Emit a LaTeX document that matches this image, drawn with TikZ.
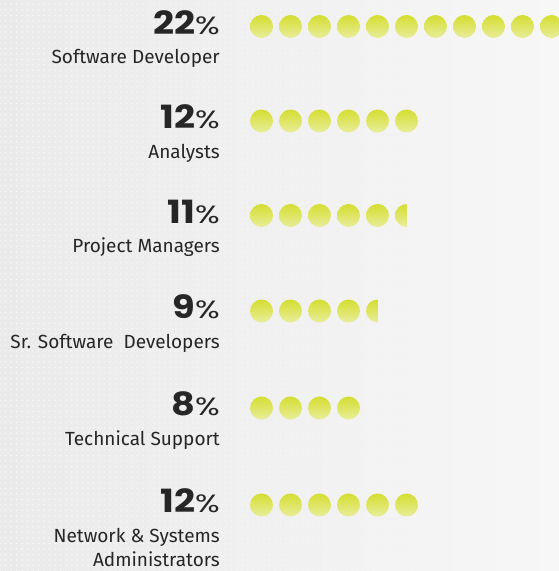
\documentclass[tikz,border=0pt]{standalone}
\usepackage{fontspec}
\setmainfont{Fira Sans}
\newfontfamily\numfont{Poppins}[FakeStretch=1.15]
\newfontfamily\pctfont{Poppins}[FakeStretch=1.3]
\usetikzlibrary{patterns.meta,fadings}
\definecolor{dottop}{RGB}{212,222,48}
\definecolor{dotbot}{RGB}{233,237,155}
\definecolor{ink}{RGB}{38,38,38}
\tikzset{
  numlabel/.style={anchor=base east, inner sep=0pt, text=ink, font=\numfont\bfseries\fontsize{32}{32}\selectfont},
  catlabel/.style={anchor=base east, inner sep=0pt, text=ink, align=right, font=\fontsize{19}{24}\selectfont},
  dotshade/.style={top color=dottop, bottom color=dotbot, draw=none},
}
\newcommand{\pct}{{\pctfont\mdseries\fontsize{25}{25}\selectfont\%}}
\begin{document}
\begin{tikzpicture}[x=1pt,y=-1pt]
\useasboundingbox (0,0) rectangle (559,571);
\shade[left color={rgb,255:red,234;green,234;blue,234}, right color={rgb,255:red,247;green,247;blue,247}, shading angle=90] (0,0) rectangle (559,571);
\fill[pattern={Dots[radius=1pt,distance=5.5pt]}, pattern color=white, path fading=east, fill opacity=0.6] (0,0) rectangle (559,571);
% rows: center y, full dots, half dot flag, number, label, name, extra lines
\foreach \cy/\nfull/\half/\num/\lab/\nm/\extra in {
  26.5/11/0/22/{Software Developer}/r1/0,
  121/6/0/12/{Analysts}/r2/0,
  215.5/5/1/11/{Project Managers}/r3/0,
  311/4/1/9/{Sr. Software~ Developers}/r4/0,
  408/4/0/8/{Technical Support}/r5/0,
  505/6/0/12/{Network \& Systems\\Administrators}/r6/1}{
  \node[numlabel] (\nm num) at (220,\cy+7.5) {\num\pct};
  \node[catlabel] (\nm lab) at (220,\cy+37+24*\extra) {\lab};
  \foreach \k in {1,...,\nfull}{
    \shade[dotshade] ({261.5+29*(\k-1)},\cy) circle (11.5);
  }
  \ifnum\half=1
    \begin{scope}
      \clip ({250+29*\nfull},\cy-12) rectangle ({261.5+29*\nfull},\cy+12);
      \shade[dotshade] ({261.5+29*\nfull},\cy) circle (11.5);
    \end{scope}
  \fi
}
\end{tikzpicture}
\end{document}
